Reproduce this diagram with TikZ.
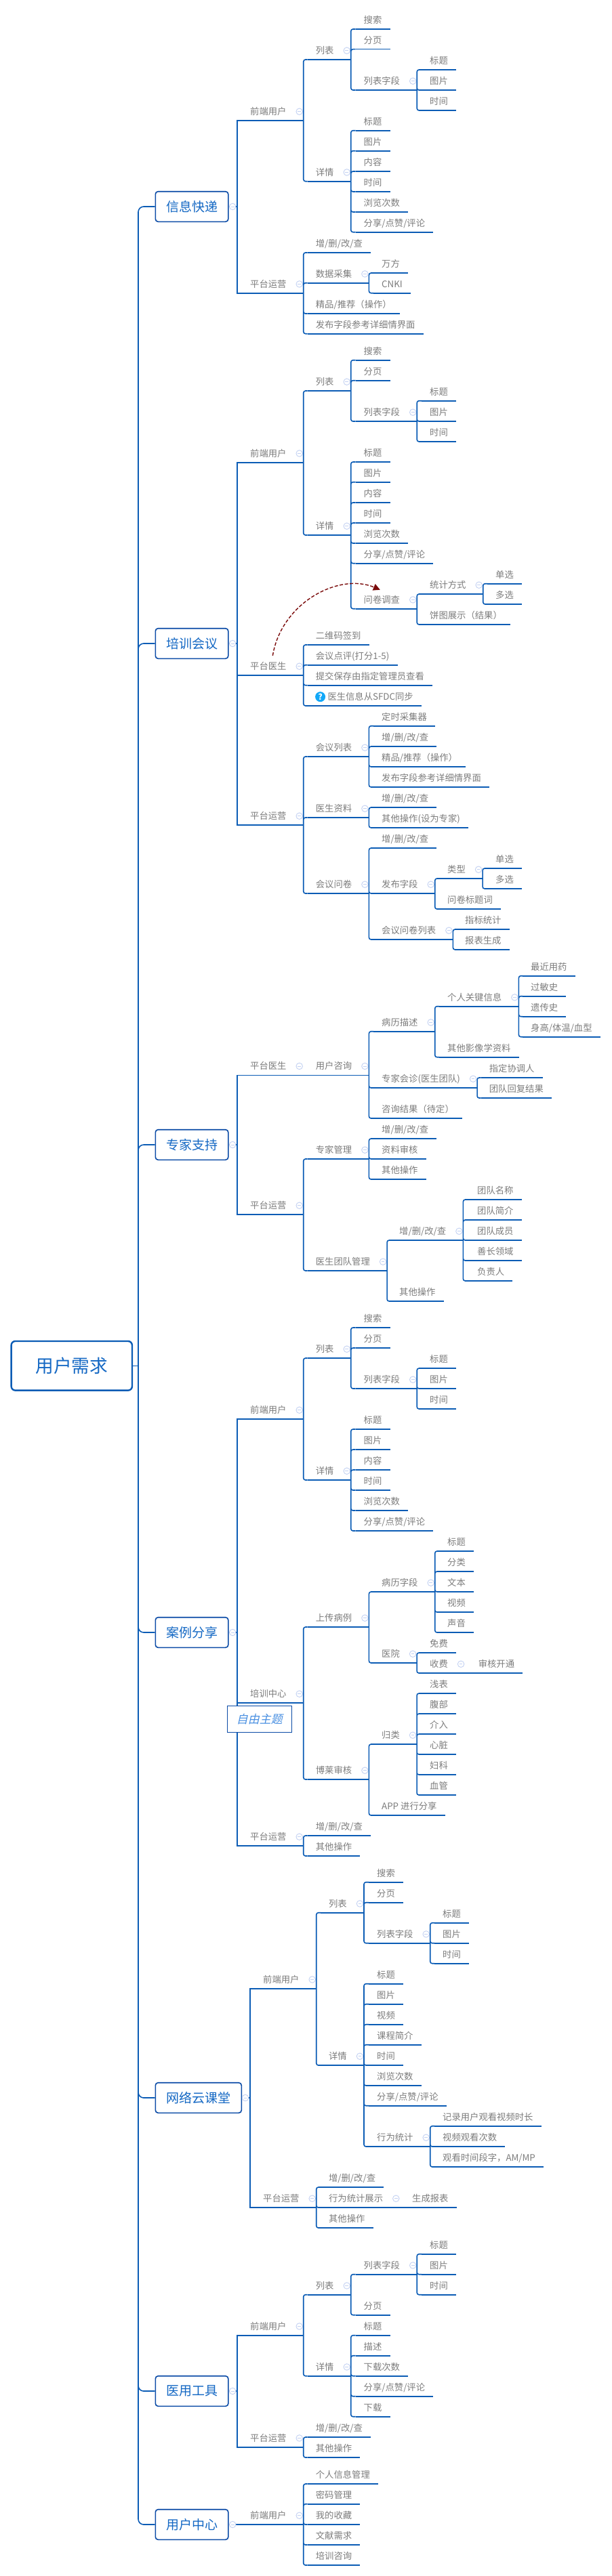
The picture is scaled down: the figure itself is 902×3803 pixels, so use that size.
\documentclass[tikz,border=0pt]{standalone}
\usepackage{fontspec}
\setmainfont{Noto Sans CJK SC}
\newfontfamily\slantfont[FakeSlant=0.22]{Noto Sans CJK SC}
\usepackage{tikz}
\usetikzlibrary{arrows,arrows.meta}

\definecolor{linkblue}{HTML}{0B5CB5}
\definecolor{boxblue}{HTML}{0B4BA6}
\definecolor{titleblue}{HTML}{1468C4}
\definecolor{freeblue}{HTML}{4A90E2}
\definecolor{tgrey}{HTML}{7C7C7C}
\definecolor{iconblue}{HTML}{C3D1F2}
\definecolor{relred}{HTML}{7A0A0A}
\definecolor{qblue}{HTML}{12A8F8}

\tikzset{
  link/.style={draw=linkblue,line width=1.6pt,rounded corners=3pt},
  sharplink/.style={draw=linkblue,line width=1.6pt},
  mainlink/.style={draw=linkblue,line width=1.6pt,rounded corners=8pt},
  icon/.style={circle,draw=iconblue,fill=white,line width=0.9pt,minimum size=9.5pt,inner sep=0pt,
    path picture={\draw[iconblue,line width=0.9pt] ([xshift=-2.4pt]path picture bounding box.center) -- ([xshift=2.4pt]path picture bounding box.center);}},
  topic/.style={anchor=south west,inner xsep=12pt,inner ysep=6.3pt,text height=11pt,text depth=2pt,
    text=tgrey,font=\fontsize{13.33}{16}\selectfont,
    append after command={(\tikzlastnode.south west) edge[sharplink] (\tikzlastnode.south east)}},
  branch/.style={topic,execute at end node={\hspace*{13pt}},
    append after command={node[icon,name=\tikzlastnode-m] at ([xshift=-6pt,yshift=13.3pt]\tikzlastnode.south east) {}}},
  boxtopic/.style={anchor=west,draw=boxblue,fill=white,line width=1.6pt,rounded corners=4pt,
    minimum width=107.5pt,minimum height=44.6pt,inner sep=0pt,text=titleblue,font=\fontsize{19}{22}\selectfont},
  roottopic/.style={boxtopic,anchor=center,draw=linkblue,line width=2.4pt,rounded corners=6pt,
    minimum width=178.3pt,minimum height=72.7pt,font=\fontsize{26.7}{30}\selectfont},
  freetopic/.style={anchor=center,draw=boxblue,fill=white,line width=0.8pt,minimum width=95.3pt,minimum height=39pt,
    inner sep=0pt,text=freeblue,font=\fontsize{17}{20}\slantfont},
  relation/.style={draw=relred,line width=1.4pt,dash pattern=on 5pt off 2.6pt,
    -{Triangle[length=10pt,width=10pt,fill=relred]}},
  qmark/.style={circle,fill=qblue,text=white,minimum size=15pt,inner sep=0pt,font=\fontsize{12}{12}\selectfont\bfseries},
}

\begin{document}
\begin{tikzpicture}[x=1pt,y=-1pt]
  \useasboundingbox (0,0) rectangle (902,3803);

  % centre and main topics
  \node[roottopic] (root) at (105.8,2016.3) {用户需求};
  \node[boxtopic] (a) at (228.5,305) {信息快递};
  \node[boxtopic] (b) at (228.5,950) {培训会议};
  \node[boxtopic] (c) at (228.5,1690) {专家支持};
  \node[boxtopic] (d) at (228.5,2410) {案例分享};
  \node[boxtopic,minimum width=127pt] (e) at (228.5,3097) {网络云课堂};
  \node[boxtopic] (f) at (228.5,3530) {医用工具};
  \node[boxtopic] (g) at (228.5,3727) {用户中心};
  \coordinate (mT) at (204,2016.3);
  \coordinate (aT) at (350,305);
  \coordinate (bT) at (350,950);
  \coordinate (cT) at (350,1690);
  \coordinate (dT) at (350,2410);
  \coordinate (eT) at (369,3097);
  \coordinate (fT) at (350,3530);
  \coordinate (gT) at (350,3727);

  % 信息快递
  \node[branch] (a1) at (357,178) {前端用户};
  \node[branch] (a11) at (453.7,88) {列表};
  \node[topic] (a111) at (524.5,43) {搜索};
  \node[topic] (a112) at (524.5,72.7) {分页};
  \node[branch] (a113) at (524.5,133) {列表字段};
  \node[topic] (a1131) at (622,103) {标题};
  \node[topic] (a1132) at (622,133) {图片};
  \node[topic] (a1133) at (622,163) {时间};
  \node[branch] (a12) at (453.7,267.7) {详情};
  \node[topic] (a121) at (524.5,192.7) {标题};
  \node[topic] (a122) at (524.5,222.7) {图片};
  \node[topic] (a123) at (524.5,253) {内容};
  \node[topic] (a124) at (524.5,283) {时间};
  \node[topic] (a125) at (524.5,313) {浏览次数};
  \node[topic] (a126) at (524.5,342.7) {分享/点赞/评论};
  \node[branch] (a2) at (357,432.7) {平台运营};
  \node[topic] (a21) at (453.7,373) {增/删/改/查};
  \node[branch] (a22) at (453.7,417.7) {数据采集};
  \node[topic] (a221) at (551,403) {万方};
  \node[topic] (a222) at (551,432.7) {CNKI};
  \node[topic] (a23) at (453.7,463) {精品/推荐（操作）};
  \node[topic] (a24) at (453.7,492.7) {发布字段参考详细情界面};

  % 培训会议
  \node[branch] (b1) at (357,682.7) {前端用户};
  \node[branch] (b11) at (453.7,577) {列表};
  \node[topic] (b111) at (524.5,531.7) {搜索};
  \node[topic] (b112) at (524.5,561.7) {分页};
  \node[branch] (b113) at (524.5,622) {列表字段};
  \node[topic] (b1131) at (622,591.7) {标题};
  \node[topic] (b1132) at (622,622) {图片};
  \node[topic] (b1133) at (622,652) {时间};
  \node[branch] (b12) at (453.7,790) {详情};
  \node[topic] (b121) at (524.5,682) {标题};
  \node[topic] (b122) at (524.5,711.7) {图片};
  \node[topic] (b123) at (524.5,742) {内容};
  \node[topic] (b124) at (524.5,772) {时间};
  \node[topic] (b125) at (524.5,802) {浏览次数};
  \node[topic] (b126) at (524.5,831.7) {分享/点赞/评论};
  \node[branch] (b127) at (524.5,898.7) {问卷调查};
  \node[branch] (b1271) at (622,877) {统计方式};
  \node[topic] (b12711) at (719,861.7) {单选};
  \node[topic] (b12712) at (719,892) {多选};
  \node[topic] (b1272) at (622,922) {饼图展示（结果）};
  \node[branch] (b2) at (357,997) {平台医生};
  \node[topic] (b21) at (453.7,952) {二维码签到};
  \node[topic] (b22) at (453.7,981.7) {会议点评(打分1-5)};
  \node[topic] (b23) at (453.7,1011.7) {提交保存由指定管理员查看};
  \node[topic] (b24) at (454,1042) {\hspace*{17.3pt}医生信息从SFDC同步};
  \node[qmark] (b24q) at (472.6,1028.7) {?};
  \node[branch] (b3) at (357,1218) {平台运营};
  \node[branch] (b31) at (453.7,1117) {会议列表};
  \node[topic] (b311) at (551,1071.7) {定时采集器};
  \node[topic] (b312) at (551,1102) {增/删/改/查};
  \node[topic] (b313) at (551,1132) {精品/推荐（操作）};
  \node[topic] (b314) at (551,1162) {发布字段参考详细情界面};
  \node[branch] (b32) at (453.7,1207) {医生资料};
  \node[topic] (b321) at (551,1192) {增/删/改/查};
  \node[topic] (b322) at (551,1222) {其他操作(设为专家)};
  \node[branch] (b33) at (453.7,1319) {会议问卷};
  \node[topic] (b331) at (551,1252) {增/删/改/查};
  \node[branch] (b332) at (551,1319) {发布字段};
  \node[branch] (b3321) at (648,1297) {类型};
  \node[topic] (b33211) at (719,1282) {单选};
  \node[topic] (b33212) at (719,1312) {多选};
  \node[topic] (b3322) at (648,1342) {问卷标题词};
  \node[branch] (b333) at (551,1387) {会议问卷列表};
  \node[topic] (b3331) at (674,1372) {指标统计};
  \node[topic] (b3332) at (674,1402) {报表生成};

  % 专家支持
  \node[branch] (c1) at (357,1587.3) {平台医生};
  \node[branch] (c11) at (453.7,1587.3) {用户咨询};
  \node[branch] (c111) at (551,1522.7) {病历描述};
  \node[branch] (c1111) at (648,1485.7) {个人关键信息};
  \node[topic] (c11111) at (771,1440.7) {最近用药};
  \node[topic] (c11112) at (771,1470.7) {过敏史};
  \node[topic] (c11113) at (771,1500.7) {遗传史};
  \node[topic] (c11114) at (771,1530.7) {身高/体温/血型};
  \node[topic] (c1112) at (648,1560.7) {其他影像学资料};
  \node[branch] (c112) at (551,1606) {专家会诊(医生团队)};
  \node[topic] (c1121) at (709.7,1591) {指定协调人};
  \node[topic] (c1122) at (709.7,1621) {团队回复结果};
  \node[topic] (c113) at (551,1651) {咨询结果（待定）};
  \node[branch] (c2) at (357,1793) {平台运营};
  \node[branch] (c21) at (453.7,1711) {专家管理};
  \node[topic] (c211) at (551,1681) {增/删/改/查};
  \node[topic] (c212) at (551,1711) {资料审核};
  \node[topic] (c213) at (551,1741) {其他操作};
  \node[branch] (c22) at (453.7,1876) {医生团队管理};
  \node[branch] (c221) at (577,1831) {增/删/改/查};
  \node[topic] (c2211) at (692,1771) {团队名称};
  \node[topic] (c2212) at (692,1801) {团队简介};
  \node[topic] (c2213) at (692,1831) {团队成员};
  \node[topic] (c2214) at (692,1861) {善长领域};
  \node[topic] (c2215) at (692,1891) {负责人};
  \node[topic] (c222) at (577,1921) {其他操作};

  % 案例分享
  \node[branch] (d1) at (357,2095) {前端用户};
  \node[branch] (d11) at (453.7,2005) {列表};
  \node[topic] (d111) at (524.5,1960) {搜索};
  \node[topic] (d112) at (524.5,1990) {分页};
  \node[branch] (d113) at (524.5,2050) {列表字段};
  \node[topic] (d1131) at (622,2020) {标题};
  \node[topic] (d1132) at (622,2050) {图片};
  \node[topic] (d1133) at (622,2080) {时间};
  \node[branch] (d12) at (453.7,2185) {详情};
  \node[topic] (d121) at (524.5,2110) {标题};
  \node[topic] (d122) at (524.5,2140) {图片};
  \node[topic] (d123) at (524.5,2170) {内容};
  \node[topic] (d124) at (524.5,2200) {时间};
  \node[topic] (d125) at (524.5,2230) {浏览次数};
  \node[topic] (d126) at (524.5,2260) {分享/点赞/评论};
  \node[branch] (d2) at (357,2514) {培训中心};
  \node[branch] (d21) at (453.7,2402) {上传病例};
  \node[branch] (d211) at (551,2350) {病历字段};
  \node[topic] (d2111) at (648,2290) {标题};
  \node[topic] (d2112) at (648,2320) {分类};
  \node[topic] (d2113) at (648,2350) {文本};
  \node[topic] (d2114) at (648,2380) {视频};
  \node[topic] (d2115) at (648,2410) {声音};
  \node[branch] (d212) at (551,2455) {医院};
  \node[topic] (d2121) at (622,2440) {免费};
  \node[branch] (d2122) at (622,2470) {收费};
  \node[topic] (d21221) at (693.6,2470) {审核开通};
  \node[branch] (d22) at (453.7,2627) {博莱审核};
  \node[branch] (d221) at (551,2575) {归类};
  \node[topic] (d2211) at (622,2500) {浅表};
  \node[topic] (d2212) at (622,2530) {腹部};
  \node[topic] (d2213) at (622,2560) {介入};
  \node[topic] (d2214) at (622,2590) {心脏};
  \node[topic] (d2215) at (622,2620) {妇科};
  \node[topic] (d2216) at (622,2650) {血管};
  \node[topic] (d222) at (551,2680) {APP 进行分享};
  \node[branch] (d3) at (357,2725) {平台运营};
  \node[topic] (d31) at (453.7,2710) {增/删/改/查};
  \node[topic] (d32) at (453.7,2740) {其他操作};

  % 网络云课堂
  \node[branch] (e1) at (376,2935.7) {前端用户};
  \node[branch] (e11) at (472.9,2823.7) {列表};
  \node[topic] (e111) at (544,2778.7) {搜索};
  \node[topic] (e112) at (544,2808.7) {分页};
  \node[branch] (e113) at (544,2868.7) {列表字段};
  \node[topic] (e1131) at (641,2838.7) {标题};
  \node[topic] (e1132) at (641,2868.7) {图片};
  \node[topic] (e1133) at (641,2898.7) {时间};
  \node[branch] (e12) at (472.9,3049) {详情};
  \node[topic] (e121) at (544,2928.7) {标题};
  \node[topic] (e122) at (544,2958.7) {图片};
  \node[topic] (e123) at (544,2988.7) {视频};
  \node[topic] (e124) at (544,3018.7) {课程简介};
  \node[topic] (e125) at (544,3049) {时间};
  \node[topic] (e126) at (544,3079) {浏览次数};
  \node[topic] (e127) at (544,3108.7) {分享/点赞/评论};
  \node[branch] (e128) at (544,3169) {行为统计};
  \node[topic] (e1281) at (641,3138.7) {记录用户观看视频时长};
  \node[topic] (e1282) at (641,3169) {视频观看次数};
  \node[topic] (e1283) at (641,3199) {观看时间段字，AM/MP};
  \node[branch] (e2) at (376,3259) {平台运营};
  \node[topic] (e21) at (472.9,3229) {增/删/改/查};
  \node[branch] (e22) at (472.9,3259) {行为统计展示};
  \node[topic] (e221) at (596,3259) {生成报表};
  \node[topic] (e23) at (472.9,3289) {其他操作};

  % 医用工具
  \node[branch] (f1) at (357,3447.7) {前端用户};
  \node[branch] (f11) at (453.7,3387.7) {列表};
  \node[branch] (f111) at (524.5,3357.7) {列表字段};
  \node[topic] (f1111) at (622,3327.7) {标题};
  \node[topic] (f1112) at (622,3357.7) {图片};
  \node[topic] (f1113) at (622,3387.7) {时间};
  \node[topic] (f112) at (524.5,3417.7) {分页};
  \node[branch] (f12) at (453.7,3507.7) {详情};
  \node[topic] (f121) at (524.5,3447.7) {标题};
  \node[topic] (f122) at (524.5,3477.7) {描述};
  \node[topic] (f123) at (524.5,3507.7) {下载次数};
  \node[topic] (f124) at (524.5,3537.7) {分享/点赞/评论};
  \node[topic] (f125) at (524.5,3567.7) {下载};
  \node[branch] (f2) at (357,3612.7) {平台运营};
  \node[topic] (f21) at (453.7,3598) {增/删/改/查};
  \node[topic] (f22) at (453.7,3628) {其他操作};

  % 用户中心
  \node[branch] (g1) at (357,3727) {前端用户};
  \node[topic] (g11) at (453.7,3667) {个人信息管理};
  \node[topic] (g12) at (453.7,3696.7) {密码管理};
  \node[topic] (g13) at (453.7,3727) {我的收藏};
  \node[topic] (g14) at (453.7,3757) {文献需求};
  \node[topic] (g15) at (453.7,3787) {培训咨询};

  % main connectors
  \draw[sharplink] (root.east) -- (mT);
  \draw[mainlink] (mT) |- (a.west) (mT) |- (b.west) (mT) |- (c.west) (mT) |- (d.west);
  \draw[mainlink] (mT) |- (e.west) (mT) |- (f.west) (mT) |- (g.west);

  % connectors, parent by parent
  \draw[sharplink] (a.east) -- (aT) |- (a1.south west) (aT) |- (a2.south west);
  \draw[link] (a1.south east) |- (a11.south west) (a1.south east) |- (a12.south west);
  \draw[link] (a11.south east) |- (a111.south west) (a11.south east) |- (a112.south west) (a11.south east) |- (a113.south west);
  \draw[link] (a113.south east) |- (a1131.south west) (a113.south east) |- (a1132.south west) (a113.south east) |- (a1133.south west);
  \draw[link] (a12.south east) |- (a121.south west) (a12.south east) |- (a122.south west) (a12.south east) |- (a123.south west);
  \draw[link] (a12.south east) |- (a124.south west) (a12.south east) |- (a125.south west) (a12.south east) |- (a126.south west);
  \draw[link] (a2.south east) |- (a21.south west) (a2.south east) |- (a22.south west) (a2.south east) |- (a23.south west) (a2.south east) |- (a24.south west);
  \draw[link] (a22.south east) |- (a221.south west) (a22.south east) |- (a222.south west);

  \draw[sharplink] (b.east) -- (bT) |- (b1.south west) (bT) |- (b2.south west) (bT) |- (b3.south west);
  \draw[link] (b1.south east) |- (b11.south west) (b1.south east) |- (b12.south west);
  \draw[link] (b11.south east) |- (b111.south west) (b11.south east) |- (b112.south west) (b11.south east) |- (b113.south west);
  \draw[link] (b113.south east) |- (b1131.south west) (b113.south east) |- (b1132.south west) (b113.south east) |- (b1133.south west);
  \draw[link] (b12.south east) |- (b121.south west) (b12.south east) |- (b122.south west) (b12.south east) |- (b123.south west) (b12.south east) |- (b124.south west);
  \draw[link] (b12.south east) |- (b125.south west) (b12.south east) |- (b126.south west) (b12.south east) |- (b127.south west);
  \draw[link] (b127.south east) |- (b1271.south west) (b127.south east) |- (b1272.south west);
  \draw[link] (b1271.south east) |- (b12711.south west) (b1271.south east) |- (b12712.south west);
  \draw[link] (b2.south east) |- (b21.south west) (b2.south east) |- (b22.south west) (b2.south east) |- (b23.south west) (b2.south east) |- (b24.south west);
  \draw[link] (b3.south east) |- (b31.south west) (b3.south east) |- (b32.south west) (b3.south east) |- (b33.south west);
  \draw[link] (b31.south east) |- (b311.south west) (b31.south east) |- (b312.south west) (b31.south east) |- (b313.south west) (b31.south east) |- (b314.south west);
  \draw[link] (b32.south east) |- (b321.south west) (b32.south east) |- (b322.south west);
  \draw[link] (b33.south east) |- (b331.south west) (b33.south east) |- (b332.south west) (b33.south east) |- (b333.south west);
  \draw[link] (b332.south east) |- (b3321.south west) (b332.south east) |- (b3322.south west);
  \draw[link] (b3321.south east) |- (b33211.south west) (b3321.south east) |- (b33212.south west);
  \draw[link] (b333.south east) |- (b3331.south west) (b333.south east) |- (b3332.south west);

  \draw[sharplink] (c.east) -- (cT) |- (c1.south west) (cT) |- (c2.south west);
  \draw[link] (c1.south east) -- (c11.south west);
  \draw[link] (c11.south east) |- (c111.south west) (c11.south east) |- (c112.south west) (c11.south east) |- (c113.south west);
  \draw[link] (c111.south east) |- (c1111.south west) (c111.south east) |- (c1112.south west);
  \draw[link] (c1111.south east) |- (c11111.south west) (c1111.south east) |- (c11112.south west) (c1111.south east) |- (c11113.south west) (c1111.south east) |- (c11114.south west);
  \draw[link] (c112.south east) |- (c1121.south west) (c112.south east) |- (c1122.south west);
  \draw[link] (c2.south east) |- (c21.south west) (c2.south east) |- (c22.south west);
  \draw[link] (c21.south east) |- (c211.south west) (c21.south east) |- (c212.south west) (c21.south east) |- (c213.south west);
  \draw[link] (c22.south east) |- (c221.south west) (c22.south east) |- (c222.south west);
  \draw[link] (c221.south east) |- (c2211.south west) (c221.south east) |- (c2212.south west) (c221.south east) |- (c2213.south west) (c221.south east) |- (c2214.south west) (c221.south east) |- (c2215.south west);

  \draw[sharplink] (d.east) -- (dT) |- (d1.south west) (dT) |- (d2.south west) (dT) |- (d3.south west);
  \draw[link] (d1.south east) |- (d11.south west) (d1.south east) |- (d12.south west);
  \draw[link] (d11.south east) |- (d111.south west) (d11.south east) |- (d112.south west) (d11.south east) |- (d113.south west);
  \draw[link] (d113.south east) |- (d1131.south west) (d113.south east) |- (d1132.south west) (d113.south east) |- (d1133.south west);
  \draw[link] (d12.south east) |- (d121.south west) (d12.south east) |- (d122.south west) (d12.south east) |- (d123.south west);
  \draw[link] (d12.south east) |- (d124.south west) (d12.south east) |- (d125.south west) (d12.south east) |- (d126.south west);
  \draw[link] (d2.south east) |- (d21.south west) (d2.south east) |- (d22.south west);
  \draw[link] (d21.south east) |- (d211.south west) (d21.south east) |- (d212.south west);
  \draw[link] (d211.south east) |- (d2111.south west) (d211.south east) |- (d2112.south west) (d211.south east) |- (d2113.south west) (d211.south east) |- (d2114.south west) (d211.south east) |- (d2115.south west);
  \draw[link] (d212.south east) |- (d2121.south west) (d212.south east) |- (d2122.south west);
  \draw[link] (d2122.south east) -- (d21221.south west);
  \draw[link] (d22.south east) |- (d221.south west) (d22.south east) |- (d222.south west);
  \draw[link] (d221.south east) |- (d2211.south west) (d221.south east) |- (d2212.south west) (d221.south east) |- (d2213.south west);
  \draw[link] (d221.south east) |- (d2214.south west) (d221.south east) |- (d2215.south west) (d221.south east) |- (d2216.south west);
  \draw[link] (d3.south east) |- (d31.south west) (d3.south east) |- (d32.south west);

  \draw[sharplink] (e.east) -- (eT) |- (e1.south west) (eT) |- (e2.south west);
  \draw[link] (e1.south east) |- (e11.south west) (e1.south east) |- (e12.south west);
  \draw[link] (e11.south east) |- (e111.south west) (e11.south east) |- (e112.south west) (e11.south east) |- (e113.south west);
  \draw[link] (e113.south east) |- (e1131.south west) (e113.south east) |- (e1132.south west) (e113.south east) |- (e1133.south west);
  \draw[link] (e12.south east) |- (e121.south west) (e12.south east) |- (e122.south west) (e12.south east) |- (e123.south west) (e12.south east) |- (e124.south west);
  \draw[link] (e12.south east) |- (e125.south west) (e12.south east) |- (e126.south west) (e12.south east) |- (e127.south west) (e12.south east) |- (e128.south west);
  \draw[link] (e128.south east) |- (e1281.south west) (e128.south east) |- (e1282.south west) (e128.south east) |- (e1283.south west);
  \draw[link] (e2.south east) |- (e21.south west) (e2.south east) |- (e22.south west) (e2.south east) |- (e23.south west);
  \draw[link] (e22.south east) -- (e221.south west);

  \draw[sharplink] (f.east) -- (fT) |- (f1.south west) (fT) |- (f2.south west);
  \draw[link] (f1.south east) |- (f11.south west) (f1.south east) |- (f12.south west);
  \draw[link] (f11.south east) |- (f111.south west) (f11.south east) |- (f112.south west);
  \draw[link] (f111.south east) |- (f1111.south west) (f111.south east) |- (f1112.south west) (f111.south east) |- (f1113.south west);
  \draw[link] (f12.south east) |- (f121.south west) (f12.south east) |- (f122.south west) (f12.south east) |- (f123.south west) (f12.south east) |- (f124.south west) (f12.south east) |- (f125.south west);
  \draw[link] (f2.south east) |- (f21.south west) (f2.south east) |- (f22.south west);

  \draw[sharplink] (g.east) -- (g1.south west);
  \draw[link] (g1.south east) |- (g11.south west) (g1.south east) |- (g12.south west) (g1.south east) |- (g13.south west) (g1.south east) |- (g14.south west) (g1.south east) |- (g15.south west);

  % things on top of the lines
  \node[icon] (aI) at (343.2,305) {};
  \node[icon] (bI) at (343.2,950) {};
  \node[icon] (cI) at (343.2,1690) {};
  \node[icon] (dI) at (343.2,2410) {};
  \node[icon] (eI) at (362,3097) {};
  \node[icon] (fI) at (343.2,3530) {};
  \node[icon] (gI) at (343.2,3727) {};
  \node[freetopic] (free) at (382.8,2537.8) {自由主题};

  % relation from 平台医生 to 问卷调查
  \draw[relation] ([yshift=3pt]b2.north) .. controls (415,890) and (500,845) .. ([xshift=-9pt,yshift=2pt]b127.north);
\end{tikzpicture}
\end{document}
